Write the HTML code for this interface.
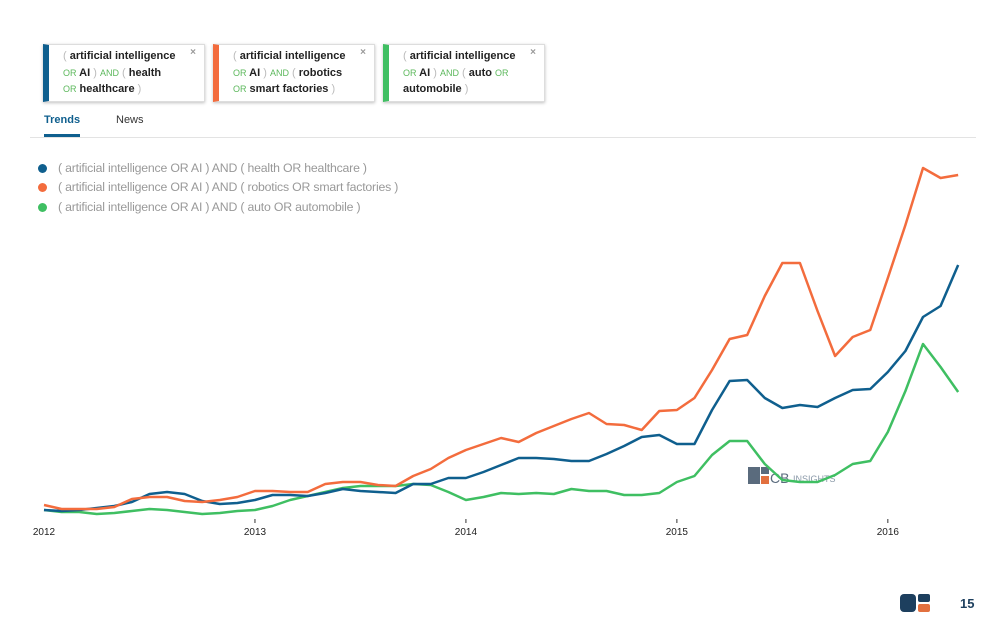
<!DOCTYPE html>
<html><head><meta charset="utf-8"><style>
body{margin:0;width:1000px;height:636px;background:#fff;font-family:"Liberation Sans",sans-serif;position:relative;overflow:hidden}
.card{position:absolute;top:44px;width:162px;height:58px;border:1px solid #ddd;box-shadow:0 1px 3px rgba(0,0,0,.25);border-left:6px solid;font-size:11px;line-height:16.5px;color:#222;font-weight:bold;padding:3px 0 0 14px;box-sizing:border-box;background:#fff}
.card .g{color:#5cb85c;font-weight:normal;font-size:9px}.card .p{color:#bbb;font-weight:normal}
.card .x{position:absolute;right:8px;top:0px;color:#999;font-size:10px}
.leg{position:absolute;left:38px;font-size:12.3px;color:#999;letter-spacing:-0.2px}
.leg i{display:inline-block;width:9px;height:9px;border-radius:50%;margin-right:11px;vertical-align:-1px}
</style></head><body>
<div class="card" style="left:43px;border-left-color:#0f5f8e"><span class="p">(</span> artificial intelligence<br><span class="g">OR</span> AI <span class="p">)</span> <span class="g">AND</span> <span class="p">(</span> health<br><span class="g">OR</span> healthcare <span class="p">)</span><span class="x">×</span></div>
<div class="card" style="left:213px;border-left-color:#f36c3d"><span class="p">(</span> artificial intelligence<br><span class="g">OR</span> AI <span class="p">)</span> <span class="g">AND</span> <span class="p">(</span> robotics<br><span class="g">OR</span> smart factories <span class="p">)</span><span class="x">×</span></div>
<div class="card" style="left:383px;border-left-color:#3fbf62"><span class="p">(</span> artificial intelligence<br><span class="g">OR</span> AI <span class="p">)</span> <span class="g">AND</span> <span class="p">(</span> auto <span class="g">OR</span><br>automobile <span class="p">)</span><span class="x">×</span></div>
<div style="position:absolute;left:44px;top:114px;font-size:11px;font-weight:bold;color:#0f5f8e">Trends</div>
<div style="position:absolute;left:44px;top:134px;width:36px;height:3px;background:#0f5f8e"></div>
<div style="position:absolute;left:116px;top:114px;font-size:11px;color:#333">News</div>
<div style="position:absolute;left:30px;top:137px;width:946px;height:1px;background:#e3e3e3"></div>
<div class="leg" style="top:161px"><i style="background:#0f5f8e"></i>( artificial intelligence OR AI ) AND ( health OR healthcare )</div>
<div class="leg" style="top:180px"><i style="background:#f36c3d"></i>( artificial intelligence OR AI ) AND ( robotics OR smart factories )</div>
<div class="leg" style="top:200px"><i style="background:#3fbf62"></i>( artificial intelligence OR AI ) AND ( auto OR automobile )</div>
<svg id="chart" width="1000" height="636" style="position:absolute;left:0;top:0">
<g><rect x="748" y="467" width="12" height="17" fill="#5a6b7d"/><rect x="761" y="467" width="8" height="7" fill="#5a6b7d"/><rect x="761" y="476" width="8" height="8" fill="#e2703f"/><text x="770" y="483" font-size="14" fill="#5a6b7d" font-family="Liberation Sans">CB</text><text x="793" y="482" font-size="9" fill="#8a99a8" font-family="Liberation Sans">INSIGHTS</text></g>
<g id="axis"></g><g id="lines"></g>
<g><rect x="900" y="594" width="16" height="18" rx="4" fill="#1d3f5e"/><rect x="918" y="594" width="12" height="8" rx="2" fill="#1d3f5e"/><rect x="918" y="604" width="12" height="8" rx="2" fill="#e2703f"/></g>
<text x="960" y="608" font-size="13" font-weight="bold" fill="#1d3f5e" font-family="Liberation Sans">15</text>
</svg>
<script>
const years=["2012","2013","2014","2015","2016"];
const health=[10,9,10,12,14,18,26,28,26,19,16,17,20,25,25,24,27,31,29,28,27,36,36,42,42,48,55,62,62,61,59,59,66,74,83,85,76,76,110,139,140,122,112,115,113,122,130,131,148,169,203,214,255];
const robotics=[15,11,11,11,13,21,23,23,19,18,20,23,29,29,28,28,36,38,38,35,34,44,51,62,70,76,82,78,87,94,101,107,96,95,90,109,110,122,150,181,185,224,257,257,209,164,183,190,242,295,352,342,345];
const auto=[10,8,8,6,7,9,11,10,8,6,7,9,10,14,20,24,28,32,34,34,34,36,35,28,20,23,27,26,27,26,31,29,29,25,25,27,38,44,65,79,79,56,40,38,38,45,56,59,88,129,176,153,128];
const NS="http://www.w3.org/2000/svg";
const x0=44,dx=17.58,y0=520;
const xs=i=>x0+dx*i, ys=v=>y0-v;
const ax=document.getElementById('axis');
years.forEach((yr,k)=>{
 const x=xs(k*12);
 const t=document.createElementNS(NS,'line');
 
 
 t.setAttribute('x1',x);t.setAttribute('x2',x);t.setAttribute('y1',519);t.setAttribute('y2',523);t.setAttribute('stroke','#333');
 if(k>0)ax.appendChild(t);
 const l=document.createElementNS(NS,'text');
 
 
 l.setAttribute('x',x);l.setAttribute('y',535);l.setAttribute('text-anchor','middle');l.setAttribute('font-size','10');l.setAttribute('fill','#222');l.setAttribute('font-family','Liberation Sans');
 l.textContent=yr;ax.appendChild(l);
});
const lg=document.getElementById('lines');
[[auto,'#3fbf62','line-auto'],[health,'#0f5f8e','line-health'],[robotics,'#f36c3d','line-robotics']].forEach(([d,c,n])=>{
 const p=document.createElementNS(NS,'polyline');
 
 
 p.setAttribute('points',d.map((v,i)=>xs(i)+','+ys(v)).join(' '));
 p.setAttribute('fill','none');p.setAttribute('stroke',c);p.setAttribute('stroke-width','2.5');p.setAttribute('stroke-linejoin','round');
 lg.appendChild(p);
});
</script>
</body></html>
